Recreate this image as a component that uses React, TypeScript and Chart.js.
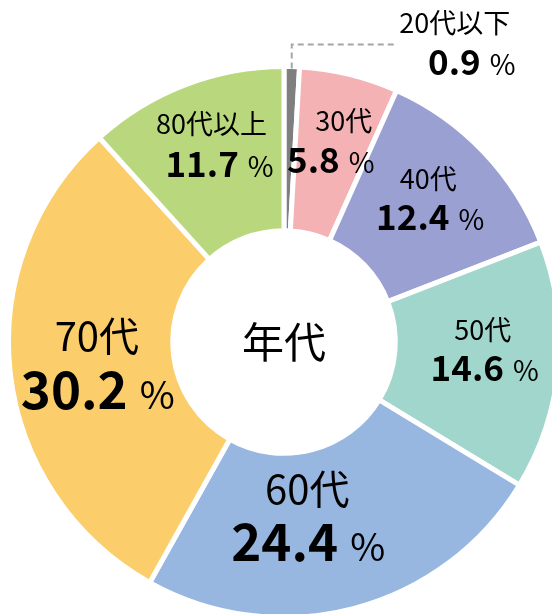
import React, { useEffect, useRef } from "react";
import { Chart, registerables } from "chart.js";

Chart.register(...registerables);

const categories = ["20代以下", "30代", "40代", "50代", "60代", "70代", "80代以上"];
const values = [0.9, 5.8, 12.4, 14.6, 24.4, 30.2, 11.7];
const valueLabels = ["0.9", "5.8", "12.4", "14.6", "24.4", "30.2", "11.7"];
const colors = ["#7F7F7F", "#F4B2B5", "#9BA0D3", "#A1D6CC", "#97B7E1", "#FBCD6B", "#B9D77C"];
const centerTitle = "年代";

const FONT = '"Noto Sans CJK JP", "Noto Sans", sans-serif';

// per-label placement: offsets (px) from the arc's mid point (or outer point when outside)
const labelLayout = [
  { outside: true, l1: [163, -46], l2: [180, -6], big: false },
  { outside: false, l1: [14, -33], l2: [1, 6], big: false },
  { outside: false, l1: [4, -30], l2: [6, 9], big: false },
  { outside: false, l1: [6, -29], l2: [8, 9], big: false },
  { outside: false, l1: [-26, -40], l2: [-25, 14], big: true },
  { outside: false, l1: [5, -28], l2: [6, 27], big: true },
  { outside: false, l1: [-3, -38], l2: [5, 3], big: false },
];

const labelPlugin = {
  id: "sliceLabels",
  afterDatasetsDraw(chart: any) {
    const ctx = chart.ctx;
    const meta = chart.getDatasetMeta(0);
    ctx.save();
    meta.data.forEach((arc: any, i: number) => {
      const p = arc.getProps(["x", "y", "startAngle", "endAngle", "innerRadius", "outerRadius"], true);
      const mid = (p.startAngle + p.endAngle) / 2;
      const lay = labelLayout[i];
      let ax: number, ay: number;
      if (lay.outside) {
        const r = p.outerRadius - 2;
        ax = p.x + Math.cos(mid) * r;
        ay = p.y + Math.sin(mid) * r;
        // dashed leader line
        ctx.save();
        ctx.strokeStyle = "#A6A6A6";
        ctx.lineWidth = 2;
        ctx.setLineDash([6, 4]);
        ctx.beginPath();
        ctx.moveTo(ax, ay);
        ctx.lineTo(ax, ay - 24);
        ctx.lineTo(ax + 105, ay - 24);
        ctx.stroke();
        ctx.restore();
      } else {
        const r = (p.innerRadius + p.outerRadius) / 2;
        ax = p.x + Math.cos(mid) * r;
        ay = p.y + Math.sin(mid) * r;
      }
      const s1 = lay.big ? 40 : 27;
      const sNum = lay.big ? 51 : 35;
      const sPct = lay.big ? 38 : 28;
      ctx.fillStyle = "#000";
      ctx.textBaseline = "alphabetic";
      // line 1
      ctx.font = `${s1}px ${FONT}`;
      ctx.textAlign = "center";
      ctx.fillText(categories[i], ax + lay.l1[0], ay + lay.l1[1] + s1 * 0.37);
      // line 2
      ctx.font = `bold ${sNum}px ${FONT}`;
      const wNum = ctx.measureText(valueLabels[i]).width;
      ctx.font = `${sPct}px ${FONT}`;
      const gap = sPct * 0.32;
      const wPct = ctx.measureText("%").width;
      const total = wNum + gap + wPct;
      const cx = ax + lay.l2[0];
      const by = ay + lay.l2[1] + sNum * 0.36;
      ctx.textAlign = "left";
      ctx.font = `bold ${sNum}px ${FONT}`;
      ctx.fillText(valueLabels[i], cx - total / 2, by);
      ctx.font = `${sPct}px ${FONT}`;
      ctx.fillText("%", cx - total / 2 + wNum + gap, by);
    });
    // center title
    const a0 = meta.data[0].getProps(["x", "y"], true);
    ctx.font = `42px ${FONT}`;
    ctx.textAlign = "center";
    ctx.textBaseline = "alphabetic";
    ctx.fillText(centerTitle, a0.x, a0.y + 42 * 0.38);
    ctx.restore();
  },
};

export default function App() {
  const ref = useRef<HTMLCanvasElement>(null);
  useEffect(() => {
    if (!ref.current) return;
    const chart = new Chart(ref.current, {
      type: "doughnut",
      data: {
        labels: categories,
        datasets: [
          {
            data: values,
            backgroundColor: colors,
            borderColor: "#FFFFFF",
            borderWidth: 5,
            radius: 275.5,
          } as any,
        ],
      },
      options: {
        animation: false,
        responsive: false,
        cutout: "40.4%",
        layout: { padding: 0 },
        plugins: {
          legend: { display: false },
          tooltip: { enabled: false },
          title: { display: false },
        },
      } as any,
      plugins: [labelPlugin],
    });
    return () => chart.destroy();
  }, []);
  return (
    <div
      style={{
        position: "fixed",
        left: 0,
        top: 0,
        width: 552,
        height: 614,
        overflow: "hidden",
        background: "#fff",
      }}
    >
      <canvas ref={ref} width={568} height={684} style={{ display: "block", width: 568, height: 684 }} />
    </div>
  );
}
